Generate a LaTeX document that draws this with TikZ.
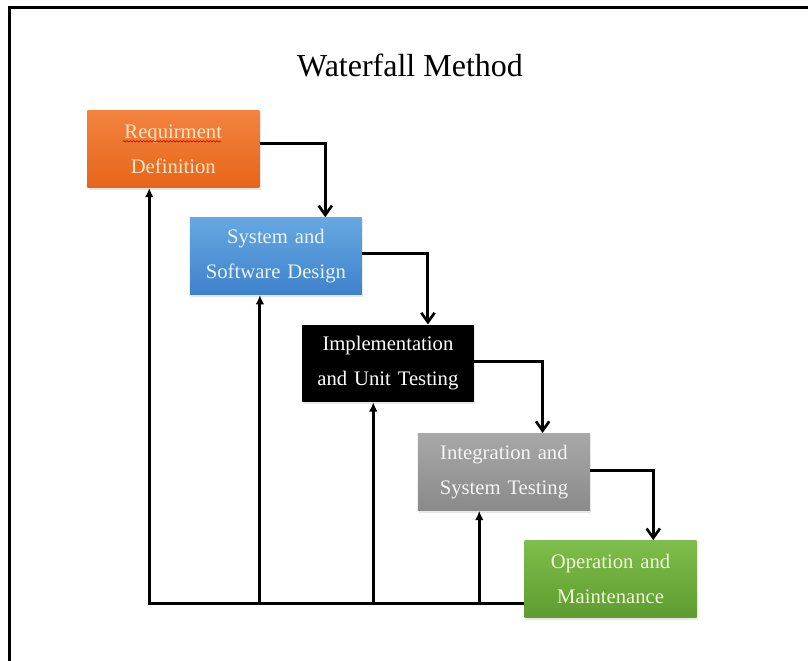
\documentclass[tikz,border=0pt]{standalone}
\usepackage{fontspec}
\setmainfont{Liberation Serif}
\usetikzlibrary{arrows.meta, positioning, shadows, decorations.pathmorphing}

\definecolor{reqtop}{HTML}{F3833F}
\definecolor{reqbot}{HTML}{E6661A}
\definecolor{reqtext}{HTML}{FCE6C8}
\definecolor{systop}{HTML}{66A8E2}
\definecolor{sysbot}{HTML}{3E82CB}
\definecolor{systext}{HTML}{EAF2FB}
\definecolor{integtop}{HTML}{A8A8A8}
\definecolor{integbot}{HTML}{8A8A8A}
\definecolor{integtext}{HTML}{F4F4F4}
\definecolor{opstop}{HTML}{7FBD4C}
\definecolor{opsbot}{HTML}{5E9C30}
\definecolor{opstext}{HTML}{EEF8D6}

\begin{document}
\begin{tikzpicture}[x=0.75pt, y=-0.75pt, >=Latex,
    stage/.style={rectangle, text centered, text width=125pt, minimum width=129pt, minimum height=58pt, inner sep=0pt, font=\fontsize{15.5}{26}\selectfont, drop shadow={opacity=0.18, shadow xshift=1pt, shadow yshift=-1.5pt}},
    flowdown/.style={-{Straight Barb[length=7pt, width=10pt, line width=2pt]}, line width=2.2pt},
    flowup/.style={-{Latex[length=7pt, width=6.5pt]}, line width=2.2pt}]

    \useasboundingbox (0,0) rectangle (808,661);
    %% frame
    \draw[line width=2.6pt] (9.5,661) -- (9.5,7.5) -- (808,7.5);

    \node (title) at (410,65) {\fontsize{24}{28}\selectfont Waterfall Method};

    \node (req) [stage, anchor=north west, top color=reqtop, bottom color=reqbot, text=reqtext] at (87,110) {Requirment\\Definition};
    \node (sys) [stage, below right=22pt and 77pt of req.south west, top color=systop, bottom color=sysbot, text=systext] {System and\\Software Design};
    \node (imp) [stage, below right=22pt and 84pt of sys.south west, fill=black, text=white] {Implementation\\and Unit Testing};
    \node (integ) [stage, below right=23pt and 87pt of imp.south west, top color=integtop, bottom color=integbot, text=integtext] {Integration and\\System Testing};
    \node (ops) [stage, below right=22pt and 80pt of integ.south west, top color=opstop, bottom color=opsbot, text=opstext] {Operation and\\Maintenance};

    %% spell check mark
    \draw[red!85!black, line width=0.5pt, decorate, decoration={snake, amplitude=0.5pt, segment length=2.5pt}] ([xshift=-38pt, yshift=-23.5pt]req.north) -- ([xshift=36pt, yshift=-23.5pt]req.north);

    %% cascade
    \draw[flowdown] ([yshift=4pt]req.east) -| ([xshift=37pt]sys.north);
    \draw[flowdown] ([yshift=2pt]sys.east) -| ([xshift=30pt]imp.north);
    \draw[flowdown] ([yshift=1.5pt]imp.east) -| ([xshift=29pt]integ.north);
    \draw[flowdown] ([yshift=1pt]integ.east) -| ([xshift=32pt]ops.north);

    %% feedback
    \coordinate (loop) at ([yshift=-18pt]ops.west);
    \draw[flowup] (loop) -| ([xshift=-18pt]req.south);
    \draw[flowup] ([xshift=-12pt]sys.south |- loop) -- ([xshift=-12pt]sys.south);
    \draw[flowup] ([xshift=-11pt]imp.south |- loop) -- ([xshift=-11pt]imp.south);
    \draw[flowup] ([xshift=-18.5pt]integ.south |- loop) -- ([xshift=-18.5pt]integ.south);

\end{tikzpicture}
\end{document}
